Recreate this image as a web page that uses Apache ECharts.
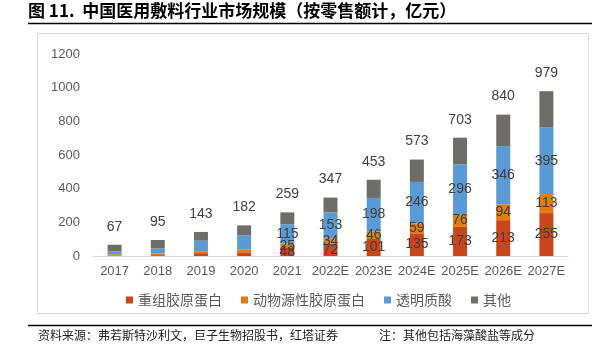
<!DOCTYPE html>
<html><head><meta charset="utf-8">
<script src="https://cdn.jsdelivr.net/npm/echarts@6/dist/echarts.min.js"></script>
<style>html,body{margin:0;padding:0;background:#fff}#c{width:606px;height:355px}</style>
</head><body><div id="c"></div>
<script>
var categories = ['2017','2018','2019','2020','2021','2022E','2023E','2024E','2025E','2026E','2027E'];
var recombinant = [3, 5, 17, 22, 48, 72, 101, 135, 173, 213, 255];
var animal = [8, 10, 12, 18, 25, 34, 46, 59, 76, 94, 113];
var hyaluronic = [17, 30, 62, 83, 115, 153, 198, 246, 296, 346, 395];
var others = [39, 50, 52, 59, 71, 88, 108, 133, 158, 187, 216];
var totals = [67, 95, 143, 182, 259, 347, 453, 573, 703, 840, 979];
var yTicks = [0, 200, 400, 600, 800, 1000, 1200];
var firstLabelled = 4;

var FONT = 'Liberation Sans, Arial, Noto Sans CJK SC, sans-serif';
var CJK = 'Noto Sans CJK SC, sans-serif';

function seg(name, values, color, labelled) {
  return {
    name: name, type: 'bar', stack: 'total', barWidth: 14,
    itemStyle: {color: color},
    data: values.map(function (v, i) {
      return {value: v, label: {show: labelled && i >= firstLabelled}};
    }),
    label: {position: 'inside', color: '#404040', fontSize: 14, fontFamily: FONT}
  };
}

var chart = echarts.init(document.getElementById('c'));
chart.setOption({
  animation: false,
  grid: {left: 93, right: 38, top: 54, bottom: 99},
  legend: {
    data: ['重组胶原蛋白', '动物源性胶原蛋白', '透明质酸', '其他'],
    left: 121, top: 288, itemWidth: 7, itemHeight: 7, itemGap: 19,
    icon: 'rect',
    textStyle: {color: '#595959', fontSize: 14, fontFamily: CJK}
  },
  xAxis: {
    type: 'category', data: categories,
    axisLine: {lineStyle: {color: '#d9d9d9'}},
    axisTick: {show: false},
    axisLabel: {color: '#595959', fontSize: 13, fontFamily: FONT, margin: 9, interval: 0}
  },
  yAxis: {
    type: 'value', min: yTicks[0], max: yTicks[yTicks.length - 1], interval: yTicks[1] - yTicks[0],
    splitLine: {show: false}, axisLine: {show: false}, axisTick: {show: false},
    axisLabel: {color: '#595959', fontSize: 13, fontFamily: FONT, margin: 13,
      formatter: function (v) { return String(v); }}
  },
  series: [
    seg('重组胶原蛋白', recombinant, '#C9461D', true),
    seg('动物源性胶原蛋白', animal, '#E07C12', true),
    seg('透明质酸', hyaluronic, '#5B9BD5', true),
    seg('其他', others, '#6E6D69', false),
    {
      name: '合计', type: 'bar', barWidth: 14, barGap: '-100%', z: 1, silent: true,
      itemStyle: {color: 'rgba(0,0,0,0)'},
      data: totals,
      label: {show: true, position: 'top', distance: 11, color: '#404040', fontSize: 14, fontFamily: FONT}
    }
  ],
  graphic: [
    {type: 'text', left: 28, top: 2, style: {text: '图 11.  中国医用敷料行业市场规模（按零售额计，亿元）', font: 'bold 17px ' + CJK, fill: '#000'}},
    {type: 'line', shape: {x1: 28, y1: 23.5, x2: 592, y2: 23.5}, style: {stroke: '#000', lineWidth: 1.5}},
    {type: 'rect', shape: {x: 37.5, y: 33.5, width: 551, height: 280}, style: {fill: 'none', stroke: '#d9d9d9', lineWidth: 1}, z: -1},
    {type: 'line', shape: {x1: 28, y1: 325.5, x2: 592, y2: 325.5}, style: {stroke: '#000', lineWidth: 1.5}},
    {type: 'text', left: 38, top: 329, style: {text: '资料来源：弗若斯特沙利文，巨子生物招股书，红塔证券', font: '12px ' + CJK, fill: '#222'}},
    {type: 'text', left: 379, top: 329, style: {text: '注：其他包括海藻酸盐等成分', font: '12px ' + CJK, fill: '#222'}}
  ]
});
</script></body></html>
